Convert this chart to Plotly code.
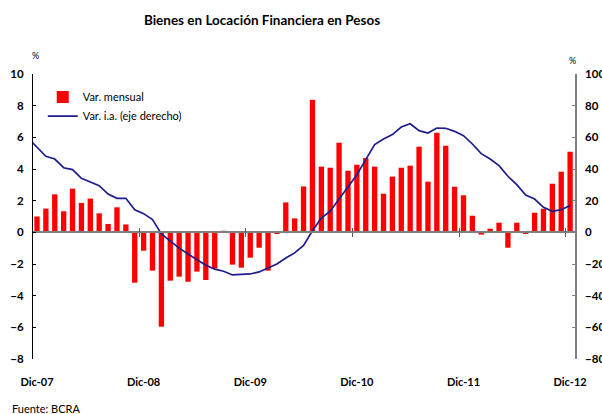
import plotly.graph_objects as go

# ---------------- data ----------------
mes_abrev = ["Dic", "Ene", "Feb", "Mar", "Abr", "May", "Jun", "Jul", "Ago", "Sep", "Oct", "Nov"]
anios = ["07", "08", "09", "10", "11", "12"]
months = ["Dic-07"] + [f"{m}-{a}" for a in anios[1:] for m in mes_abrev[1:] + ["Dic"]]
months = months[:61]

# Var. mensual (%), Dic-07 .. Dic-12 (left axis)
var_mensual = [1.00, 1.50, 2.40, 1.33, 2.76, 1.85, 2.13, 1.20, 0.53, 1.58, 0.50, -3.18,
               -1.16, -2.42, -5.96, -3.05, -2.80, -3.12, -2.48, -3.01, -2.29, 0.10, -2.04, -2.23,
               -1.60, -0.97, -2.42, -0.08, 1.89, 0.88, 2.90, 8.38, 4.15, 4.08, 5.66, 3.89,
               4.27, 4.69, 4.15, 2.44, 3.52, 4.08, 4.21, 5.41, 3.20, 6.29, 5.47, 2.88,
               2.34, 1.05, -0.14, 0.23, 0.61, -0.97, 0.61, -0.10, 1.24, 1.49, 3.07, 3.83,
               5.09]

# Var. i.a. (%), Nov-07 .. Dic-12 (right axis)
ia_months = ["Nov-07"] + months
var_ia = [59.5, 54.0, 48.0, 46.3, 40.8, 39.6, 34.1, 31.8, 29.5, 24.2, 21.5, 21.5, 14.3,
          11.8, 8.0, -1.0, -5.7, -10.0, -13.7, -17.3, -20.8, -23.2, -24.6, -26.9, -26.5,
          -26.3, -25.0, -22.5, -20.0, -16.2, -13.0, -8.2, 1.0, 9.0, 13.3, 21.0, 28.6,
          36.4, 45.9, 55.4, 59.0, 61.7, 66.5, 68.6, 64.2, 62.7, 65.9, 65.7, 63.8,
          61.0, 55.8, 49.7, 46.3, 42.1, 35.4, 30.1, 23.6, 21.0, 15.8, 13.3, 14.3, 17.0]

xlabels = ["Dic-07", "Dic-08", "Dic-09", "Dic-10", "Dic-11", "Dic-12"]
left_ticks = [-8, -6, -4, -2, 0, 2, 4, 6, 8, 10]
right_ticks = [-80, -60, -40, -20, 0, 20, 40, 60, 80, 100]

# ---------------- positions ----------------
pos = {m: i - 1 for i, m in enumerate(ia_months)}
x_bar = [pos[m] for m in months]
x_line = [pos[m] for m in ia_months]
x_ticks = [pos[m] for m in xlabels]
x_bounds = [pos[m] - 0.5 for m in xlabels[1:]]

FONT = "Lato, 'Open Sans', sans-serif"
xr = [-0.45, 60.55]

fig = go.Figure()
fig.add_trace(go.Bar(x=x_bar, y=var_mensual, name="Var. mensual",
                     marker=dict(color="#FF0000", line=dict(width=0)), width=0.6))
fig.add_trace(go.Scatter(x=x_line, y=var_ia, name="Var. i.a. (eje derecho)", mode="lines",
                         line=dict(color="#1C1C8C", width=1.7), yaxis="y2"))
# helper traces for zero-line axes (no data)
fig.add_trace(go.Scatter(x=[], y=[], xaxis="x2", showlegend=False, hoverinfo="skip"))
fig.add_trace(go.Scatter(x=[], y=[], xaxis="x3", showlegend=False, hoverinfo="skip"))

zero_pos = (0 - left_ticks[0]) / (left_ticks[-1] - left_ticks[0])

fig.update_layout(
    width=602, height=414,
    margin=dict(l=33, r=27, t=74, b=55),
    paper_bgcolor="white", plot_bgcolor="white",
    font=dict(family=FONT, color="#000000"),
    title=dict(text="<b>Bienes en Locación Financiera en Pesos</b>",
               x=262 / 602, xanchor="center", xref="container",
               y=1 - 20 / 414, yanchor="middle",
               font=dict(size=13.5, family=FONT, color="#000000")),
    showlegend=True,
    legend=dict(x=0.018, y=0.97, xanchor="left", yanchor="top",
                bgcolor="rgba(0,0,0,0)", font=dict(size=11, family=FONT),
                traceorder="normal", itemwidth=30, tracegroupgap=2),
    xaxis=dict(range=xr, tickvals=x_ticks, ticktext=xlabels, ticks="",
               showline=False, showgrid=False, zeroline=False, automargin=False,
               tickfont=dict(size=11, family=FONT, weight=700),
               ticklabelstandoff=15),
    xaxis2=dict(range=xr, overlaying="x", anchor="free", position=zero_pos,
                showline=True, linecolor="#808080", linewidth=1.5, automargin=False,
                ticks="outside", ticklen=4, tickcolor="#555555", tickwidth=1.2,
                tickvals=x_bounds, showticklabels=False, showgrid=False, zeroline=False),
    xaxis3=dict(range=xr, overlaying="x", anchor="free", position=zero_pos,
                showline=False, ticks="inside", ticklen=4, tickcolor="#555555", tickwidth=1.2,
                automargin=False,
                tickvals=x_bounds, showticklabels=False, showgrid=False, zeroline=False),
    yaxis=dict(range=[left_ticks[0], left_ticks[-1]], tickvals=left_ticks,
               ticks="inside", ticklen=3, tickcolor="#000000",
               showline=True, linecolor="#000000", linewidth=1.2,
               showgrid=False, zeroline=False, automargin=False,
               tickfont=dict(size=11.5, family=FONT, weight=700),
               ticklabelstandoff=6),
    yaxis2=dict(range=[right_ticks[0], right_ticks[-1]], tickvals=right_ticks,
                overlaying="y", side="right", anchor="x",
                ticks="inside", ticklen=3, tickcolor="#808080",
                showline=True, linecolor="#808080", linewidth=1.5,
                showgrid=False, zeroline=False, automargin=False,
                tickfont=dict(size=11.5, family=FONT, weight=700),
                ticklabelstandoff=6),
    annotations=[
        dict(text="%", x=0.004, y=(359 - 55) / 285, xref="paper", yref="paper",
             showarrow=False, font=dict(size=9, family=FONT), xanchor="center", yanchor="middle"),
        dict(text="%", x=(572 - 33) / 542, y=(359 - 60) / 285, xref="paper", yref="paper",
             showarrow=False, font=dict(size=9, family=FONT), xanchor="center", yanchor="middle"),
        dict(text="Fuente: BCRA", x=(10 - 33) / 542, y=(359 - 408) / 285, xref="paper", yref="paper",
             showarrow=False, font=dict(size=11, family=FONT), xanchor="left", yanchor="middle"),
    ],
)

fig.write_html("out.html", config={"displayModeBar": False},
               post_script="document.body.style.margin='0';document.body.style.overflow='hidden';")
